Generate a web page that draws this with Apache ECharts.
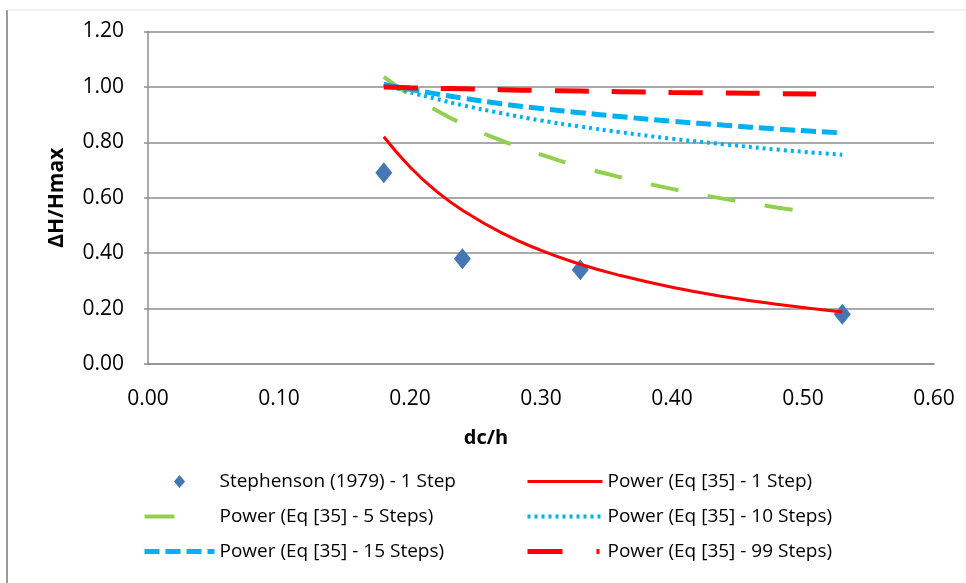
<!DOCTYPE html>
<html>
<head>
<meta charset="utf-8">
<script src="https://cdn.jsdelivr.net/npm/echarts@6/dist/echarts.min.js"></script>
<style>
  html, body { margin: 0; padding: 0; background: #fff; }
  #chart { width: 966px; height: 583px; }
</style>
</head>
<body>
<div id="chart"></div>
<script>
// measured points
const stephensonX = [0.18, 0.24, 0.33, 0.53]
const stephensonY = [0.69, 0.38, 0.34, 0.18]

// trend lines
const curveX = [0.18, 0.20, 0.22, 0.24, 0.27, 0.30, 0.33, 0.36, 0.40, 0.44, 0.48, 0.53]
const step1 = [0.82, 0.711, 0.624, 0.555, 0.473, 0.41, 0.36, 0.32, 0.277, 0.243, 0.216, 0.188]
const step10 = [1.01, 0.981, 0.957, 0.934, 0.905, 0.879, 0.857, 0.837, 0.813, 0.793, 0.774, 0.755]
const step15 = [1.01, 0.991, 0.975, 0.96, 0.939, 0.922, 0.907, 0.893, 0.876, 0.862, 0.848, 0.834]
// these two stop a bit earlier (dash pattern ends there)
const curveXShort = [0.18, 0.20, 0.22, 0.24, 0.27, 0.30, 0.33, 0.36, 0.40, 0.44, 0.48, 0.51]
const step5 = [1.036, 0.971, 0.916, 0.867, 0.806, 0.756, 0.712, 0.675, 0.632, 0.596, 0.565, 0.545]
const step99 = [1.0, 0.997, 0.995, 0.993, 0.99, 0.987, 0.985, 0.983, 0.98, 0.978, 0.976, 0.974]

const names = [
  'Stephenson (1979) - 1 Step',
  'Power (Eq [35] - 1 Step)',
  'Power (Eq [35] - 5 Steps)',
  'Power (Eq [35] - 10 Steps)',
  'Power (Eq [35] - 15 Steps)',
  'Power (Eq [35] - 99 Steps)'
]

const FONT = 'Open Sans'
const GRID_COLOR = '#8e8e8e'

const styles = {
  [names[1]]: { color: '#ff0000', width: 3, type: 'solid' },
  [names[2]]: { color: '#92d050', width: 4, type: [28, 30] },
  [names[3]]: { color: '#00b0f0', width: 4, type: [3, 4] },
  [names[4]]: { color: '#00b0f0', width: 5, type: [15, 6] },
  [names[5]]: { color: '#ff0000', width: 5, type: [34, 23] }
}
// excel shows a cut of the pattern in the legend
const legendDash = {
  [names[2]]: [30, 60],
  [names[5]]: [35, 34, 3, 10]
}

const zip = (xs, ys) => xs.map((x, i) => [x, ys[i]])

const lineSeries = (name, xs, ys) => ({
  name,
  type: 'line',
  data: zip(xs, ys),
  smooth: true,
  symbol: 'circle',
  showSymbol: false,
  lineStyle: { ...styles[name], cap: 'butt' },
  itemStyle: { color: styles[name].color },
  z: 3
})

// diamond keeps its shape inside the wide legend box
const legendItem = (name) => name === names[0]
  ? { name, icon: 'path://M6,0L12,7L6,14L0,7Z' }
  : {
      name,
      itemStyle: { opacity: 0 },
      lineStyle: {
        color: styles[name].color,
        width: styles[name].width,
        type: legendDash[name] || styles[name].type,
        cap: 'butt'
      }
    }

const legendBase = {
  orient: 'vertical',
  top: 471,
  padding: 0,
  itemHeight: 13,
  itemGap: 14,
  symbolKeepAspect: true,
  textStyle: { fontFamily: FONT, fontSize: 19, color: '#000', lineHeight: 21 }
}

const chart = echarts.init(document.getElementById('chart'))

chart.setOption({
  animation: false,
  grid: { left: 148, right: 32, top: 31.5, bottom: 219 },
  xAxis: {
    type: 'value',
    min: 0,
    max: 0.6,
    interval: 0.1,
    name: 'dc/h',
    nameLocation: 'middle',
    nameGap: 64,
    nameTextStyle: {
      fontFamily: FONT, fontSize: 20, fontWeight: 'bold', color: '#000',
      padding: [0, 110, 0, 0]
    },
    axisLine: { lineStyle: { color: GRID_COLOR, width: 1.5 } },
    axisTick: { show: false },
    splitLine: { show: false },
    axisLabel: {
      fontFamily: FONT, fontSize: 21, color: '#000', margin: 25,
      formatter: (v) => v.toFixed(2)
    }
  },
  yAxis: {
    type: 'value',
    min: 0,
    max: 1.2,
    interval: 0.2,
    name: 'ΔH/Hmax',
    nameLocation: 'middle',
    nameGap: 80,
    nameTextStyle: { fontFamily: FONT, fontSize: 21, fontWeight: 'bold', color: '#000' },
    axisLine: { show: true, lineStyle: { color: GRID_COLOR, width: 1.5 } },
    axisTick: { show: true, length: 4, lineStyle: { color: GRID_COLOR, width: 1.5 } },
    splitLine: { lineStyle: { color: GRID_COLOR, width: 1.5 } },
    axisLabel: {
      fontFamily: FONT, fontSize: 21, color: '#000', margin: 24,
      formatter: (v) => v.toFixed(2)
    }
  },
  legend: [
    { ...legendBase, left: 142, itemWidth: 70, data: [names[0], names[2], names[4]].map(legendItem) },
    { ...legendBase, left: 525, itemWidth: 75, data: [names[1], names[3], names[5]].map(legendItem) }
  ],
  graphic: [
    { type: 'line', shape: { x1: 7, y1: 10, x2: 7, y2: 583 }, style: { stroke: '#9a9a9a', lineWidth: 2 } },
    { type: 'line', shape: { x1: 7, y1: 10, x2: 966, y2: 10 }, style: { stroke: '#e4e4e4', lineWidth: 1 } }
  ],
  series: [
    {
      name: names[0],
      type: 'scatter',
      data: zip(stephensonX, stephensonY),
      symbol: 'diamond',
      symbolSize: [17, 21],
      itemStyle: { color: '#4577b5', opacity: 1 },
      z: 2
    },
    lineSeries(names[1], curveX, step1),
    lineSeries(names[2], curveXShort, step5),
    lineSeries(names[3], curveX, step10),
    lineSeries(names[4], curveX, step15),
    lineSeries(names[5], curveXShort, step99)
  ]
})
</script>
</body>
</html>
